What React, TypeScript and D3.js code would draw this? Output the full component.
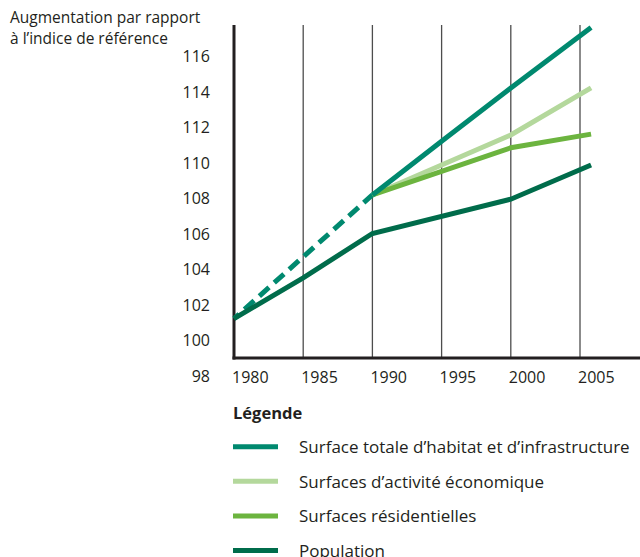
import React from "react";
import * as d3 from "d3";

const W = 640;
const H = 557;

const yTicks = [98, 100, 102, 104, 106, 108, 110, 112, 114, 116];
const xTicks = [1980, 1985, 1990, 1995, 2000, 2005];
const gridYears = [1985, 1990, 1995, 2000, 2005];

const totalDashedYears = [1980, 1990];
const totalDashedValues = [101.2, 108.17];
const totalYears = [1990, 1995, 2000, 2005.8];
const totalValues = [108.17, 111.2, 114.2, 117.6];
const ecoYears = [1990, 2000, 2005.8];
const ecoValues = [108.17, 111.55, 114.2];
const resYears = [1990, 2000, 2005.8];
const resValues = [108.17, 110.83, 111.6];
const popYears = [1980, 1985, 1990, 2000, 2005.8];
const popValues = [101.2, 103.5, 106.0, 107.93, 109.86];

const legendLabels = [
  "Surface totale d\u2019habitat et d\u2019infrastructure",
  "Surfaces d\u2019activit\u00e9 \u00e9conomique",
  "Surfaces r\u00e9sidentielles",
  "Population",
];
const colors = ["#00896f", "#b4d89c", "#6cb43f", "#006c4b"];

const FONT = "'Open Sans', sans-serif";
const TEXT = "#231f20";

export default function App() {
  const x = d3.scaleLinear().domain([1980, 2005]).range([234, 580]);
  const y = d3.scaleLinear().domain([100, 116]).range([340, 56]);
  const line = d3
    .line<[number, number]>()
    .x((d) => x(d[0]))
    .y((d) => y(d[1]));
  const zip = (a: number[], b: number[]) => a.map((v, i) => [v, b[i]] as [number, number]);

  const plotTop = 25;
  const plotBottom = 358;

  return (
    <svg width={W} height={H} style={{ display: "block", position: "absolute", left: 0, top: 0 }}>
      <rect width={W} height={H} fill="#fff" />
      <g fontFamily={FONT} fill={TEXT}>
        <text x={10} y={23} fontSize={15.5}>Augmentation par rapport</text>
        <text x={10} y={44} fontSize={15.5}>à l’indice de référence</text>
      </g>
      {gridYears.map((g) => (
        <line key={g} x1={x(g)} x2={x(g)} y1={plotTop} y2={plotBottom} stroke="#4d4d4d" strokeWidth={1.3} />
      ))}
      <line x1={234} x2={234} y1={plotTop} y2={plotBottom + 1.5} stroke={TEXT} strokeWidth={3} />
      <line x1={232.5} x2={640} y1={plotBottom} y2={plotBottom} stroke={TEXT} strokeWidth={3} />
      {yTicks.map((t) => (
        <text key={t} x={210} y={y(t)} textAnchor="end" dominantBaseline="central" fontFamily={FONT} fontSize={16} fill={TEXT}>
          {t}
        </text>
      ))}
      {xTicks.map((t) => (
        <text key={t} x={x(t) - 2} y={377} dominantBaseline="central" fontFamily={FONT} fontSize={16} fill={TEXT}>
          {t}
        </text>
      ))}
      <path d={line(zip(totalDashedYears, totalDashedValues)) || ""} fill="none" stroke={colors[0]} strokeWidth={5} strokeDasharray="13 7" strokeDashoffset={6} />
      <path d={line(zip(ecoYears, ecoValues)) || ""} fill="none" stroke={colors[1]} strokeWidth={5} />
      <path d={line(zip(resYears, resValues)) || ""} fill="none" stroke={colors[2]} strokeWidth={5} />
      <path d={line(zip(totalYears, totalValues)) || ""} fill="none" stroke={colors[0]} strokeWidth={5} />
      <path d={line(zip(popYears, popValues)) || ""} fill="none" stroke={colors[3]} strokeWidth={5} />
      <text x={233} y={412} dominantBaseline="central" fontFamily={FONT} fontSize={16.5} fontWeight="bold" fill={TEXT}>
        Légende
      </text>
      {legendLabels.map((l, i) => {
        const ly = 446.7 + i * 34.6;
        return (
          <g key={l}>
            <line x1={233} x2={278} y1={ly} y2={ly} stroke={colors[i]} strokeWidth={5} />
            <text x={299} y={ly} dominantBaseline="central" fontFamily={FONT} fontSize={17} fill={TEXT}>
              {l}
            </text>
          </g>
        );
      })}
    </svg>
  );
}
